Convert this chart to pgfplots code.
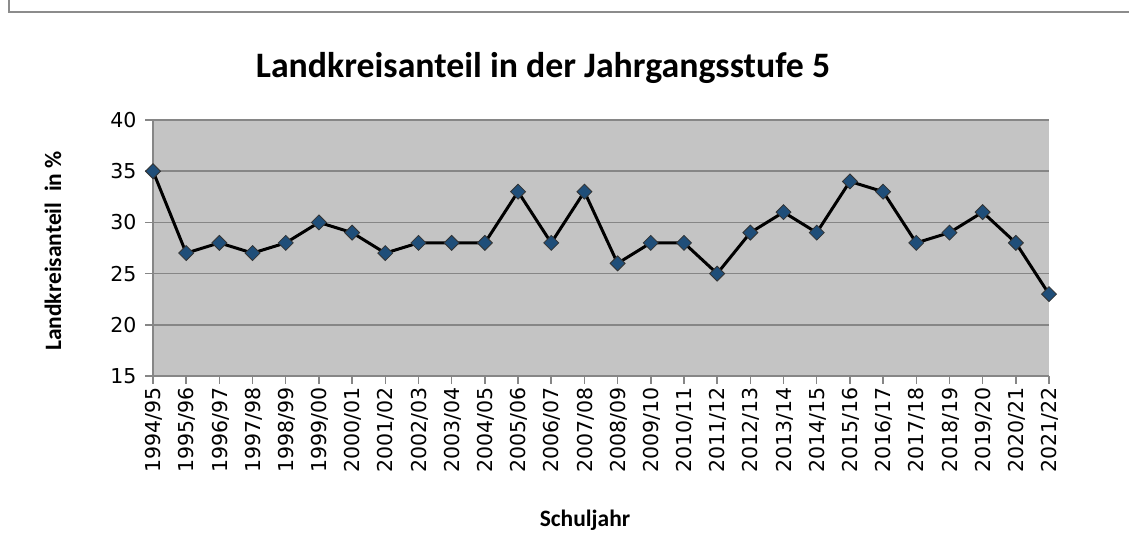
\documentclass[border=0pt]{standalone}
\usepackage{fontspec}
\setmainfont{Carlito}
\newfontfamily\tickfont{DejaVu Sans}
\usepackage{pgfplots}
\pgfplotsset{compat=1.18}
\definecolor{bgc}{RGB}{196,196,196}
\definecolor{gridc}{RGB}{134,134,134}
\definecolor{borderc}{RGB}{140,140,140}
\definecolor{markc}{RGB}{31,78,121}
\begin{document}
\begin{tikzpicture}[x=1pt,y=1pt]
\useasboundingbox (0,0) rectangle (1129,556);
\draw[borderc, line width=2pt] (9,556) -- (9,544) -- (1129,544);
\node[font=\bfseries\fontsize{35.8}{36}\selectfont] at (543,488) {Landkreisanteil in der Jahrgangsstufe 5};
\node[font=\bfseries\fontsize{23.5}{24}\selectfont, rotate=90] at (53,305) {Landkreisanteil\ \ in \%};
\node[font=\bfseries\fontsize{23.5}{24}\selectfont] at (585,36) {Schuljahr};
\begin{axis}[
  at={(153pt,180pt)}, anchor=south west,
  scale only axis, width=896pt, height=256pt,
  xmin=0, xmax=27, ymin=15, ymax=40,
  ytick={15,20,25,30,35,40},
  xtick={0,...,27},
  xticklabels={1994/95,1995/96,1996/97,1997/98,1998/99,1999/00,2000/01,2001/02,2002/03,2003/04,2004/05,2005/06,2006/07,2007/08,2008/09,2009/10,2010/11,2011/12,2012/13,2013/14,2014/15,2015/16,2016/17,2017/18,2018/19,2019/20,2020/21,2021/22},
  xticklabel style={rotate=90, anchor=east, font=\tickfont\fontsize{20.5}{20.5}\selectfont, yshift=-1pt},
  yticklabel style={font=\tickfont\fontsize{20.5}{20.5}\selectfont, xshift=-5pt},
  /pgf/number format/assume math mode=true,
  axis lines*=left,
  axis line style={gridc, line width=1.5pt},
  tick style={gridc, line width=1.5pt},
  tick align=outside,
  major tick length=8pt,
  ymajorgrids,
  grid style={gridc, line width=1.6pt},
  axis background/.style={fill=bgc},
  clip=false,
]
\addplot[black, line width=3pt, mark=square*, mark size=5.3pt,
  mark options={rotate=45, fill=markc, draw=black!80, line width=0.8pt}]
  coordinates {
  (0,35) (1,27) (2,28) (3,27) (4,28) (5,30) (6,29) (7,27) (8,28) (9,28)
  (10,28) (11,33) (12,28) (13,33) (14,26) (15,28) (16,28) (17,25) (18,29) (19,31)
  (20,29) (21,34) (22,33) (23,28) (24,29) (25,31) (26,28) (27,23)
  };
\end{axis}
\end{tikzpicture}
\end{document}
